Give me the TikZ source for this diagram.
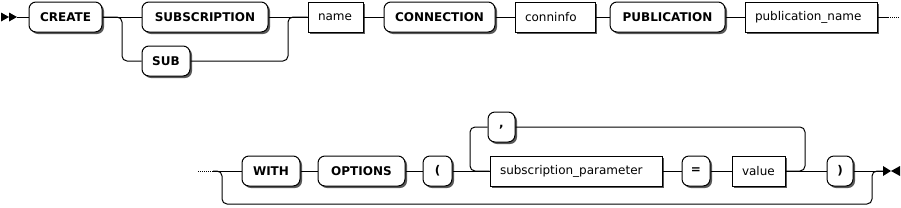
\documentclass[tikz,border=0pt]{standalone}
\usepackage{fontspec}
\setmainfont{DejaVu Sans}
\usepackage{tikz}
\usetikzlibrary{shadows}

\begin{document}
\begin{tikzpicture}[x=1pt, y=-1pt, line width=1pt,
  box/.style={draw, fill=white, minimum height=30pt, inner sep=0pt,
    drop shadow={shadow xshift=2pt, shadow yshift=-2pt, fill=black!65, opacity=1},
    font=\fontsize{12}{14}\selectfont},
  term/.style={box, rounded corners=7pt, minimum width=#1, font=\fontsize{12}{14}\selectfont\bfseries},
  nonterm/.style={box, text width=#1, align=left, inner xsep=10pt},
  rc/.style={rounded corners=5pt},
  dots/.style={dash pattern=on 1pt off 1pt}]
\useasboundingbox (0,0) rectangle (901,207);
% row 1
\node[term=73pt] (create) at (65.5,17) {CREATE};
\node[term=126pt] (subscription) at (205,17) {SUBSCRIPTION};
\node[term=48pt] (sub) at (166,61) {SUB};
\node[nonterm=35pt] (name) at (335.5,17) {name};
\node[term=111pt] (connection) at (439.5,17) {CONNECTION};
\node[nonterm=60pt] (conninfo) at (555,17) {conninfo};
\node[term=115pt] (publication) at (667.5,17) {PUBLICATION};
\node[nonterm=112pt] (pubname) at (811,17) {publication\_name};
\coordinate (start) at (17,17);
\coordinate (r1out) at (888,17);
\coordinate (r1end) at (900,17);
\fill (1,12.5) -- (9,17) -- (1,21.5) -- cycle;
\fill (9,12.5) -- (17,17) -- (9,21.5) -- cycle;
\draw (start) -- (create.west);
\draw (create.east) -- (subscription.west);
\draw[rc] (create.east) -| (122,61) -- (sub.west);
\draw (subscription.east) -- (name.west);
\draw[rc] (sub.east) -| (288,17) -- (name.west);
\draw (name.east) -- (connection.west);
\draw (connection.east) -- (conninfo.west);
\draw (conninfo.east) -- (publication.west);
\draw (publication.east) -- (pubname.west);
\draw (pubname.east) -- (r1out);
\draw[dots] (r1out) -- (r1end);
% row 2
\node[term=58pt] (with) at (271,171) {WITH};
\node[term=87pt] (options) at (361.5,171) {OPTIONS};
\node[term=29pt] (lparen) at (437.5,171) {(};
\node[term=27pt] (comma) at (501.5,127) {,};
\node[nonterm=152pt] (param) at (576,171) {subscription\_parameter};
\node[term=28pt] (eq) at (696,171) {=};
\node[nonterm=33pt] (value) at (758.5,171) {value};
\node[term=26pt] (rparen) at (840,171) {)};
\coordinate (r2start) at (198,171);
\coordinate (r2in) at (213,171);
\coordinate (stop) at (883,171);
\draw[dots] (r2start) -- (r2in);
\draw (r2in) -- (with.west);
\draw[rc] (r2in) -| (222,204) -| (872,171) -- (stop);
\draw (with.east) -- (options.west);
\draw (options.east) -- (lparen.west);
\draw (lparen.east) -- (param.west);
\draw[rc] (comma.west) -| (470,171) -- (param.west);
\draw (param.east) -- (eq.west);
\draw (eq.east) -- (value.west);
\draw[rc] (value.east) -| (805,127) -- (comma.east);
\draw (value.east) -- (rparen.west);
\draw (rparen.east) -- (stop);
\fill (883,166) -- (891,171) -- (883,176) -- cycle;
\fill (900,166) -- (891,171) -- (900,176) -- cycle;
\end{tikzpicture}
\end{document}
